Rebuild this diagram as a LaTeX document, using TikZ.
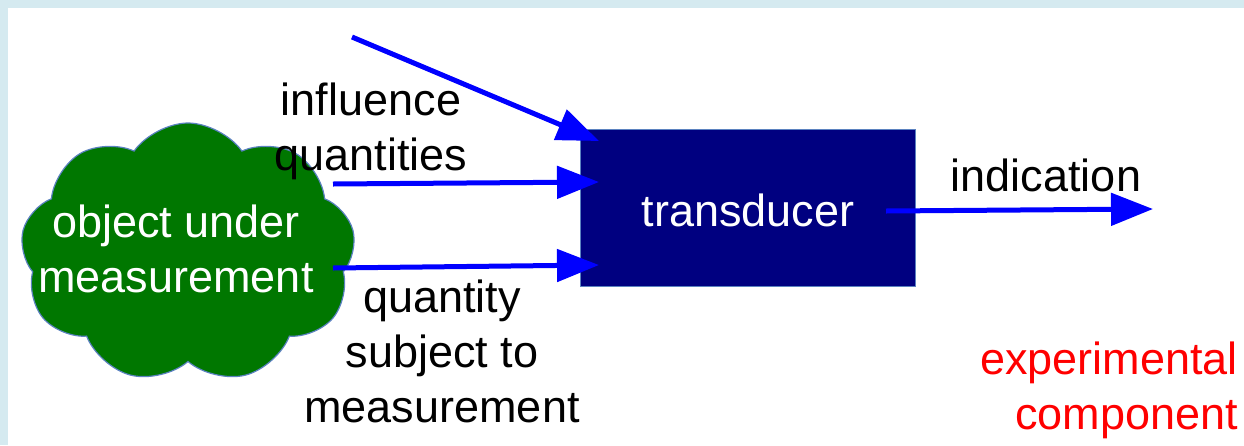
\documentclass[tikz,border=0pt]{standalone}
\usepackage{fontspec}
\setmainfont{Liberation Sans}
\usetikzlibrary{shapes.symbols,arrows.meta}
\definecolor{bgblue}{HTML}{D5EAF0}
\definecolor{cloudgreen}{HTML}{007700}
\definecolor{navybox}{HTML}{000080}
\definecolor{edgeblue}{HTML}{5B82C0}
\definecolor{arrowblue}{HTML}{0000FF}
\definecolor{redtext}{HTML}{FF0000}
\begin{document}
\begin{tikzpicture}[x=1pt,y=-1pt,
  lbl/.style={font=\fontsize{45}{55}\selectfont, align=center, inner sep=0pt},
  flow/.style={draw=arrowblue, line width=5pt, -{Triangle[length=42pt,width=32pt]}}]
\useasboundingbox (0,0) rectangle (1244,445);
\fill[bgblue] (0,0) rectangle (1244,445);
\fill[white] (8,8) rectangle (1244,445);
% cloud
\node[cloud, cloud puffs=9, cloud puff arc=110, aspect=1.3,
  minimum width=335pt, minimum height=260pt,
  fill=cloudgreen, draw=edgeblue, line width=1.2pt, inner sep=0pt] (obj) at (188,253) {};
\node[lbl, text=white] (objtxt) at (176,249) {object under\\measurement};
% transducer
\node[draw=edgeblue, fill=navybox, line width=1.5pt, minimum width=335pt, minimum height=157pt,
  inner sep=0pt] (tr) at (748,208) {};
\node[lbl, text=white] (trtxt) at (748,210) {transducer};
% connectors
\coordinate (inA) at (352,37);
\coordinate (inAe) at (599,141);
\coordinate (inB) at (333,184);
\coordinate (inBe) at (599,182);
\coordinate (inC) at (333,268);
\coordinate (inCe) at (599,265);
\coordinate (outS) at (886,211);
\coordinate (outE) at (1153,209);
\draw[flow] (inA) -- (inAe);
\draw[flow] (inB) -- (inBe);
\draw[flow] (inC) -- (inCe);
\draw[flow] (outS) -- (outE);
% labels
\node[lbl] (infl) at (371,131) {influence\\quantities};
\node[lbl] (qty) at (442,351) {quantity\\subject to\\measurement};
\node[lbl] (ind) at (1046,175) {indication};
\node[lbl, text=redtext, align=right, anchor=east] (exp) at (1238,390) {experimental\\component};
\end{tikzpicture}
\end{document}
